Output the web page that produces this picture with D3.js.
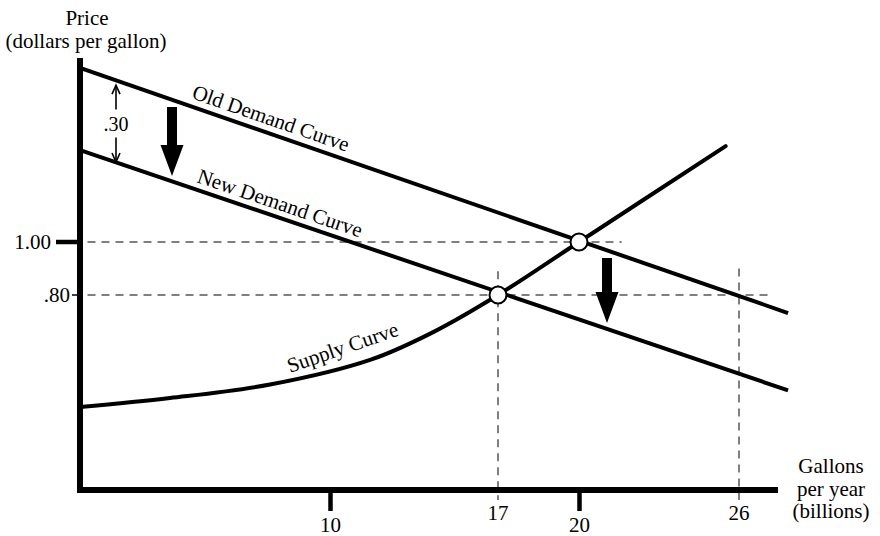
<!DOCTYPE html>
<html>
<head>
<meta charset="utf-8">
<script src="https://cdnjs.cloudflare.com/ajax/libs/d3/7.8.5/d3.min.js"></script>
<style>
  body { margin: 0; background: #fff; }
  svg text { font-family: "Liberation Serif", Tinos, "Times New Roman", "DejaVu Serif", serif; }
</style>
</head>
<body>
<div id="chart"></div>
<script>
// quantity (billions of gallons) and price (dollars per gallon)
const thickXTicks = [10, 20];
const dashedXTicks = [17, 26];
const priceTicks = [1.00, 0.80];
const priceLabels = ["1.00", ".80"];

const supplyQ = [0, 3.6, 7.6, 11.7, 14.3, 17, 20, 25.5];
const supplyP = [0.377, 0.411, 0.462, 0.556, 0.660, 0.80, 1.00, 1.362];

const oldDemandQ = [0, 27.84];
const oldDemandP = [1.657, 0.732];
const newDemandQ = [0, 27.84];
const newDemandP = [1.347, 0.440];

const equilibriumQ = [17, 20];
const equilibriumP = [0.80, 1.00];

// dashed guides
const hGuides = [{p: 1.00, q0: 0.3, q1: 21.6}, {p: 0.80, q0: 0.3, q1: 27.2}];
const vGuides = [{q: 17, p0: 0.89, p1: 0.026}, {q: 26, p0: 0.90, p1: 0.026}];

// shift arrows
const shiftArrows = [{q: 3.68, p0: 1.509, p1: 1.249}, {q: 21.05, p0: 0.94, p1: 0.694}];
const gapArrow = {q: 1.44, p0: 1.592, p1: 1.302, label: ".30"};

const width = 880, height = 536;
const svg = d3.select("#chart").append("svg").attr("width", width).attr("height", height);

// schematic axis: uneven spacing between labelled quantities
const x = d3.scaleLinear().domain([0, 10, 17, 20, 26]).range([80, 330, 498, 579, 739]);
const y = d3.scaleLinear().domain([0, 1]).range([507, 242]);

const axisY0 = 490, axisX0 = 80;

// dashed guide lines
svg.selectAll(".hguide").data(hGuides).enter().append("line")
  .attr("x1", d => x(d.q0)).attr("x2", d => x(d.q1))
  .attr("y1", d => y(d.p)).attr("y2", d => y(d.p))
  .attr("stroke", "#555").attr("stroke-width", 1.5).attr("stroke-dasharray", "8,6");
svg.selectAll(".vguide").data(vGuides).enter().append("line")
  .attr("x1", d => x(d.q)).attr("x2", d => x(d.q))
  .attr("y1", d => y(d.p0)).attr("y2", d => y(d.p1))
  .attr("stroke", "#555").attr("stroke-width", 1.5).attr("stroke-dasharray", "8,6");

// axes
svg.append("line").attr("x1", axisX0).attr("x2", axisX0).attr("y1", 58).attr("y2", axisY0 + 3)
  .attr("stroke", "#000").attr("stroke-width", 6);
svg.append("line").attr("x1", axisX0 - 3).attr("x2", 778).attr("y1", axisY0).attr("y2", axisY0)
  .attr("stroke", "#000").attr("stroke-width", 6);

const xAxis = svg.append("g").attr("transform", `translate(0,${axisY0})`)
  .call(d3.axisBottom(x).tickValues(thickXTicks).tickSize(21).tickPadding(6).tickFormat(d3.format("d")));
xAxis.select(".domain").remove();
xAxis.attr("font-family", null);
xAxis.selectAll(".tick line").attr("stroke-width", 4.5);
xAxis.selectAll(".tick text").attr("font-size", 21).attr("fill", "#000");

svg.selectAll(".dtick").data(dashedXTicks).enter().append("text")
  .attr("x", d => x(d)).attr("y", 520)
  .attr("text-anchor", "middle").attr("font-size", 21).text(d => d);

// price ticks
svg.append("line").attr("x1", 56).attr("x2", axisX0).attr("y1", y(priceTicks[0])).attr("y2", y(priceTicks[0]))
  .attr("stroke", "#000").attr("stroke-width", 4.5);
svg.append("line").attr("x1", 72).attr("x2", axisX0).attr("y1", y(priceTicks[1])).attr("y2", y(priceTicks[1]))
  .attr("stroke", "#000").attr("stroke-width", 1.5);
svg.selectAll(".ptick").data(priceTicks).enter().append("text")
  .attr("x", (d, i) => i === 0 ? 51 : 70).attr("y", d => y(d))
  .attr("dy", "0.35em").attr("text-anchor", "end").attr("font-size", 21)
  .text((d, i) => priceLabels[i]);

// axis titles
svg.append("text").attr("x", 87).attr("y", 25).attr("text-anchor", "middle").attr("font-size", 21).text("Price");
svg.append("text").attr("x", 86).attr("y", 48).attr("text-anchor", "middle").attr("font-size", 21).text("(dollars per gallon)");
const qTitle = svg.append("text").attr("x", 831).attr("y", 473).attr("text-anchor", "middle").attr("font-size", 21);
["Gallons", "per year", "(billions)"].forEach((t, i) => {
  qTitle.append("tspan").attr("x", 831).attr("dy", i === 0 ? 0 : 22.5).text(t);
});

// curves
const line = d3.line().x(d => x(d[0])).y(d => y(d[1]));
const curveLine = d3.line().x(d => x(d[0])).y(d => y(d[1])).curve(d3.curveCatmullRom.alpha(0.5));

svg.append("path").attr("d", line(d3.zip(oldDemandQ, oldDemandP)))
  .attr("fill", "none").attr("stroke", "#000").attr("stroke-width", 4);
svg.append("path").attr("d", line(d3.zip(newDemandQ, newDemandP)))
  .attr("fill", "none").attr("stroke", "#000").attr("stroke-width", 4);
svg.append("path").attr("d", curveLine(d3.zip(supplyQ, supplyP)))
  .attr("fill", "none").attr("stroke", "#000").attr("stroke-width", 4).attr("stroke-linecap", "round");

// curve labels
function angleOf(qs, ps) {
  const dx = x(qs[1]) - x(qs[0]), dy = y(ps[1]) - y(ps[0]);
  return Math.atan2(dy, dx) * 180 / Math.PI;
}
const oldAng = angleOf(oldDemandQ, oldDemandP);
const newAng = angleOf(newDemandQ, newDemandP);
svg.append("text").attr("font-size", 21)
  .attr("transform", `translate(191,98) rotate(${oldAng})`).text("Old Demand Curve");
svg.append("text").attr("font-size", 21)
  .attr("transform", `translate(196,182) rotate(${newAng})`).text("New Demand Curve");
svg.append("text").attr("font-size", 21)
  .attr("transform", `translate(290,373) rotate(-19)`).text("Supply Curve");

// equilibrium points
svg.selectAll(".eq").data(d3.zip(equilibriumQ, equilibriumP)).enter().append("circle")
  .attr("cx", d => x(d[0])).attr("cy", d => y(d[1])).attr("r", 8.5)
  .attr("fill", "#fff").attr("stroke", "#000").attr("stroke-width", 2);

// big shift arrows
svg.selectAll(".shift").data(shiftArrows).enter().append("path")
  .attr("d", d => {
    const cx = x(d.q), top = y(d.p0), tip = y(d.p1);
    const sw = 5, hw = 11.5, hl = 31;
    return `M${cx - sw},${top}L${cx + sw},${top}L${cx + sw},${tip - hl}L${cx + hw},${tip - hl}` +
           `L${cx},${tip}L${cx - hw},${tip - hl}L${cx - sw},${tip - hl}Z`;
  })
  .attr("fill", "#000");

// .30 gap arrow
const gx = x(gapArrow.q), gTop = y(gapArrow.p0), gBot = y(gapArrow.p1);
const gMid = (gTop + gBot) / 2;
const gapG = svg.append("g").attr("stroke", "#000").attr("stroke-width", 1.6).attr("fill", "none");
gapG.append("line").attr("x1", gx).attr("x2", gx).attr("y1", gTop).attr("y2", gMid - 14);
gapG.append("line").attr("x1", gx).attr("x2", gx).attr("y1", gMid + 14).attr("y2", gBot);
gapG.append("path").attr("d", `M${gx - 4},${gTop + 9}L${gx},${gTop}L${gx + 4},${gTop + 9}`);
gapG.append("path").attr("d", `M${gx - 4},${gBot - 9}L${gx},${gBot}L${gx + 4},${gBot - 9}`);
svg.append("text").attr("x", gx).attr("y", gMid).attr("dy", "0.35em")
  .attr("text-anchor", "middle").attr("font-size", 20).text(gapArrow.label);
</script>
</body>
</html>
